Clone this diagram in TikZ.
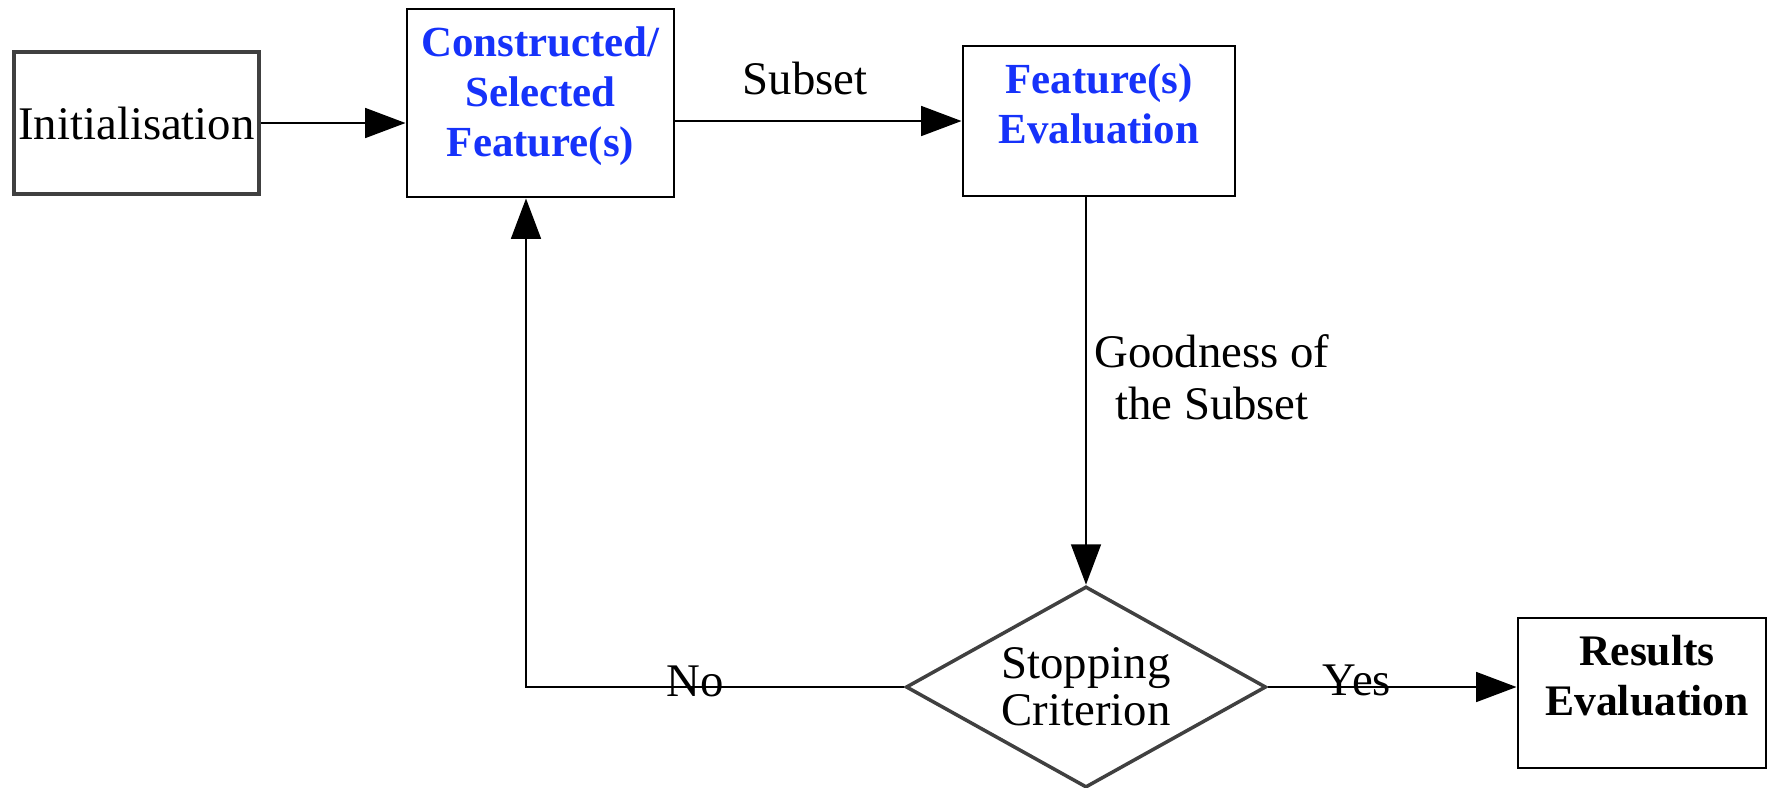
\documentclass[tikz,border=0pt]{standalone}
\usepackage{fontspec}
\setmainfont{Liberation Serif}
\usetikzlibrary{positioning,shapes.geometric,arrows.meta}
\definecolor{stepblue}{RGB}{22,50,250}

\begin{document}
\begin{tikzpicture}[x=0.01cm, y=-0.01cm, line width=0.6pt, >={Triangle[length=11.5pt,width=8.5pt]},
  stepbox/.style={rectangle, draw, line width=0.8pt, inner sep=0pt},
  bluetext/.style={align=center, inner sep=0pt, text=stepblue, font=\fontsize{12.2}{14.2}\selectfont\bfseries},
  blacktext/.style={align=center, inner sep=0pt, font=\fontsize{12.4}{14.2}\selectfont\bfseries},
  edgetext/.style={align=center, inner sep=0pt, font=\fontsize{13.3}{14.8}\selectfont}]
\useasboundingbox (0,0) rectangle (1769,787);
% boxes
\node [stepbox, draw=black!75, line width=1.1pt, minimum width=2.45cm, minimum height=1.42cm, font=\fontsize{13.3}{14.8}\selectfont] (init) at (136.5,123) {Initialisation};
\node [stepbox, minimum width=2.67cm, minimum height=1.88cm] (csf) at (540.5,103) {};
\node [bluetext, below=0.18cm of csf.north] (csftext) {Constructed/\\Selected\\Feature(s)};
\node [stepbox, minimum width=2.72cm, minimum height=1.50cm] (fse) at (1099,121) {};
\node [bluetext, below=0.18cm of fse.north] (fsetext) {Feature(s)\\Evaluation};
\node [diamond, draw=black!75, line width=1pt, minimum width=3.6cm, minimum height=2.01cm, aspect=1.79, inner sep=0pt, align=center, font=\fontsize{13.3}{13.3}\selectfont] (stop) at (1086,687) {Stopping\\Criterion};
\node [stepbox, minimum width=2.48cm, minimum height=1.50cm] (res) at (1642,693) {};
\node [blacktext, below=0.18cm of res.north, xshift=0.05cm] (restext) {Results\\Evaluation};
% labels
\node [edgetext] (subset) at (805,78) {Subset};
\node [edgetext] (goodness) at (1212,377) {Goodness of\\the Subset};
\node [edgetext] (no) at (695,681) {No};
\node [edgetext] (yes) at (1357,680) {Yes};
\coordinate (nocorner) at (526,685);
\draw [->] (init.east) -- (init.east -| csf.west);
\draw [->] (csf.east |- fse.west) -- (fse.west);
\draw [->] (stop.north |- fse.south) -- (stop.north);
\draw [->] (stop.west) -- (stop.west -| nocorner) -- (nocorner |- csf.south);
\draw [->] (stop.east) -- (stop.east -| res.west);
\end{tikzpicture}
\end{document}
